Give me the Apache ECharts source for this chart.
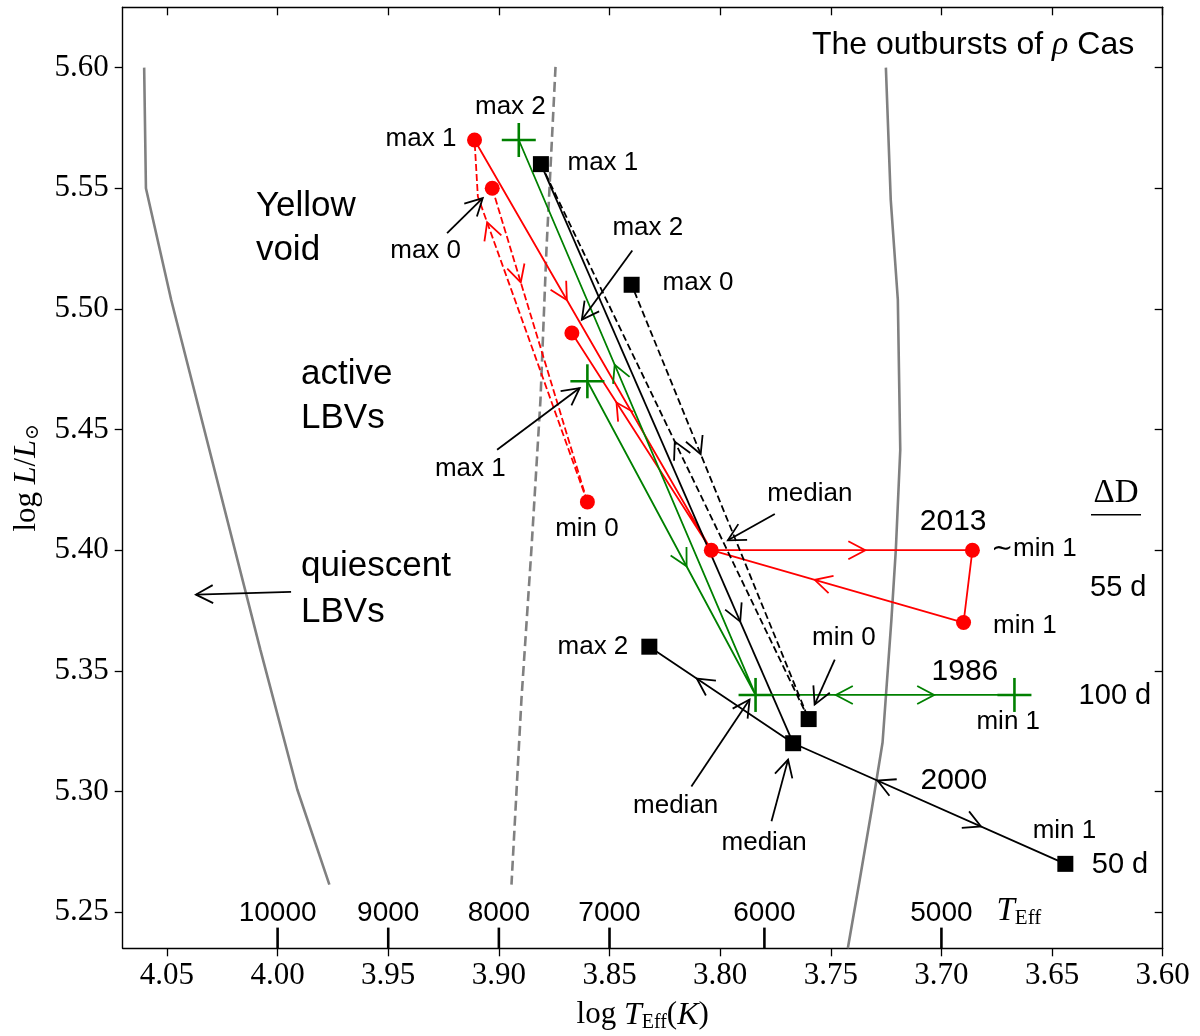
<!DOCTYPE html>
<html><head><meta charset="utf-8">
<script src="https://cdn.jsdelivr.net/npm/echarts@6/dist/echarts.min.js"></script>
<style>html,body{margin:0;padding:0;background:#fff}#c{width:1200px;height:1036px}</style>
</head><body><div id="c"></div>
<script>
// ---------- axes ----------
const X_MIN = 3.60, X_MAX = 4.07, Y_MIN = 5.235, Y_MAX = 5.625;
const xTicks = [3.60, 3.65, 3.70, 3.75, 3.80, 3.85, 3.90, 3.95, 4.00, 4.05];
const yTicks = [5.25, 5.30, 5.35, 5.40, 5.45, 5.50, 5.55, 5.60];
const tempTickPos = [4.00, 3.95, 3.90, 3.85, 3.78, 3.70];
const tempTickLabels = ['10000', '9000', '8000', '7000', '6000', '5000'];

// ---------- boundary curves ----------
const quiescentBoundary = [[4.0603,5.60],[4.0595,5.55],[4.0481,5.5038],[4.0078,5.3588],[3.9911,5.3008],[3.9766,5.2614]];
const yellowVoidBoundary = [[3.8744,5.6003],[3.8785,5.5245],[3.8812,5.4623],[3.8853,5.4002],[3.8898,5.3381],[3.8943,5.2614]];
const coolBoundary = [[3.7251,5.60],[3.7229,5.5452],[3.7197,5.5038],[3.7186,5.4416],[3.7206,5.4002],[3.7226,5.3712],[3.7266,5.3203],[3.7315,5.2925],[3.7369,5.2635],[3.7423,5.235]];

// ---------- 2013 outburst (red) ----------
const red2013Points = [[3.911,5.57],[3.903,5.55],[3.867,5.49],[3.860,5.42],[3.804,5.40],[3.686,5.40],[3.690,5.37]];
const red2013DashA = [[3.903,5.55],[3.860,5.42]];
const red2013DashB = [[3.860,5.42],[3.9095,5.5466],[3.911,5.57]];
const red2013Solid = [[3.911,5.57],[3.804,5.40],[3.867,5.49]];
const red2013Loop = [[3.804,5.40],[3.686,5.40],[3.690,5.37],[3.804,5.40]];
const red2013Arrows = [
  [3.911,5.57, 3.804,5.40, 0.39],
  [3.903,5.55, 3.860,5.42, 0.30],
  [3.860,5.42, 3.9095,5.5466, 0.915],
  [3.804,5.40, 3.867,5.49, 0.68],
  [3.804,5.40, 3.686,5.40, 0.59],
  [3.690,5.37, 3.804,5.40, 0.59]
];

// ---------- 1986 outburst (green) ----------
const green1986Points = [[3.891,5.57],[3.860,5.47],[3.784,5.34],[3.667,5.34]];
const green1986PathA = [[3.891,5.57],[3.784,5.34],[3.860,5.47]];
const green1986PathB = [[3.784,5.34],[3.667,5.34]];
const green1986Arrows = [
  [3.860,5.47, 3.784,5.34, 0.59],
  [3.784,5.34, 3.891,5.57, 0.595],
  [3.784,5.34, 3.667,5.34, 0.69],
  [3.667,5.34, 3.784,5.34, 0.69]
];

// ---------- 2000 outburst (black) ----------
const black2000Points = [[3.881,5.56],[3.840,5.51],[3.832,5.36],[3.760,5.33],[3.767,5.32],[3.644,5.27]];
const black2000SolidA = [[3.881,5.56],[3.767,5.32]];
const black2000SolidB = [[3.832,5.36],[3.767,5.32],[3.644,5.27]];
const black2000Dash = [[3.881,5.56],[3.760,5.33],[3.840,5.51]];
const black2000Arrows = [
  [3.881,5.56, 3.767,5.32, 0.79],
  [3.760,5.33, 3.881,5.56, 0.50],
  [3.840,5.51, 3.760,5.33, 0.39],
  [3.767,5.32, 3.832,5.36, 0.67],
  [3.767,5.32, 3.644,5.27, 0.69],
  [3.644,5.27, 3.767,5.32, 0.69]
];

// ---------- annotations ----------
const smallLabels = [
  ['max 2', 3.8948, 5.5837], ['max 1', 3.9352, 5.5705], ['max 1', 3.8530, 5.5605],
  ['max 0', 3.9331, 5.5241], ['max 2', 3.8327, 5.5335], ['max 0', 3.8100, 5.5107],
  ['max 1', 3.9129, 5.4338], ['min 0', 3.8602, 5.4089], ['median', 3.7595, 5.4234],
  ['\u223Cmin 1', 3.6582, 5.4006], ['min 1', 3.6623, 5.3687], ['min 0', 3.7441, 5.3638],
  ['min 1', 3.6698, 5.3287], ['max 2', 3.8575, 5.3598], ['median', 3.8201, 5.2939],
  ['median', 3.7801, 5.2787], ['min 1', 3.6444, 5.2838]
];
const yearLabels = [['2013', 3.6947, 5.4116], ['1986', 3.6894, 5.3497], ['2000', 3.6944, 5.3045]];
const durationLabels = [['55 d', 3.6201, 5.3845], ['100 d', 3.6216, 5.3397], ['50 d', 3.6193, 5.2697]];
const regionLabels = [
  ['Yellow', 4.0098, 5.5427], ['void', 4.0098, 5.5241],
  ['active', 3.9894, 5.4730], ['LBVs', 3.9894, 5.4548],
  ['quiescent', 3.9894, 5.3931], ['LBVs', 3.9894, 5.3743]
];
const pointerArrows = [
  [3.9234,5.5314, 3.9073,5.5459],
  [3.8397,5.5242, 3.8625,5.4955],
  [3.9008,5.4416, 3.8635,5.4672],
  [3.7753,5.4150, 3.7965,5.4041],
  [3.7482,5.3546, 3.7573,5.3360],
  [3.8130,5.3021, 3.7867,5.3381],
  [3.7768,5.2877, 3.7693,5.3132],
  [3.9939,5.3827, 4.0369,5.3816]
];
const titleLabel = ['{t|The outbursts of }{r|\u03C1}{t| Cas}', 3.6857, 5.6094];
const deltaLabel = ['\u0394D', 3.6211, 5.4234];
const teffLabel = ['{i|T}{s|Eff}', 3.6751, 5.2502];

// ---------- helpers ----------
const SANS = "'Liberation Sans', 'DejaVu Sans', sans-serif";
const SERIF = "'Liberation Serif', 'DejaVu Serif', serif";
const RED = '#ff0000', GREEN = '#008000', BLACK = '#000000', GRAY = '#808080';

function head(tip, ang, color) {
  const L = 17, W = 9;
  const ux = Math.cos(ang), uy = Math.sin(ang), nx = -uy, ny = ux;
  const h1 = [tip[0] - L*ux + W*nx, tip[1] - L*uy + W*ny];
  const h2 = [tip[0] - L*ux - W*nx, tip[1] - L*uy - W*ny];
  return {type: 'polyline', shape: {points: [h1, tip, h2]}, style: {stroke: color, lineWidth: 1.8, fill: 'none'}};
}
function lineSeries(data, color, width, dash, z) {
  return {type: 'line', data: data, showSymbol: false, symbol: 'none', silent: true, z: z || 3,
    lineStyle: {color: color, width: width, type: dash || 'solid', cap: 'butt'}, animation: false};
}
function flowArrows(segs, color) {
  return {type: 'custom', data: segs, encode: {x: [0, 2], y: [1, 3]}, z: 4, silent: true, clip: false,
    renderItem(params, api) {
      const a = api.coord([api.value(0), api.value(1)]);
      const b = api.coord([api.value(2), api.value(3)]);
      const f = api.value(4);
      const tip = [a[0] + f*(b[0]-a[0]), a[1] + f*(b[1]-a[1])];
      return head(tip, Math.atan2(b[1]-a[1], b[0]-a[0]), color);
    }};
}
function textSeries(items, style) {
  return {type: 'custom', data: items.map(d => [d[1], d[2]]), z: 6, silent: true, clip: false,
    renderItem(params, api) {
      const p = api.coord([api.value(0), api.value(1)]);
      return {type: 'text', x: p[0], y: p[1], style: Object.assign({text: items[params.dataIndex][0]}, style)};
    }};
}

const series = [
  lineSeries(quiescentBoundary, GRAY, 2.6),
  lineSeries(yellowVoidBoundary, GRAY, 2.6, [10, 5]),
  lineSeries(coolBoundary, GRAY, 2.6),
  lineSeries(red2013DashA, RED, 1.8, [7, 3]),
  lineSeries(red2013DashB, RED, 1.8, [7, 3]),
  lineSeries(red2013Solid, RED, 1.8),
  lineSeries(red2013Loop, RED, 1.8),
  lineSeries(green1986PathA, GREEN, 1.8),
  lineSeries(green1986PathB, GREEN, 1.8),
  lineSeries(black2000SolidA, BLACK, 1.8),
  lineSeries(black2000SolidB, BLACK, 1.8),
  lineSeries(black2000Dash, BLACK, 1.8, [7, 3.5]),
  flowArrows(red2013Arrows, RED),
  flowArrows(green1986Arrows, GREEN),
  flowArrows(black2000Arrows, BLACK),
  {type: 'scatter', data: red2013Points, symbol: 'circle', symbolSize: 15, z: 5, silent: true,
    itemStyle: {color: RED, opacity: 1}},
  {type: 'scatter', data: black2000Points, symbol: 'rect', symbolSize: 16, z: 5, silent: true,
    itemStyle: {color: BLACK, opacity: 1}},
  {type: 'custom', data: green1986Points, z: 5, silent: true, clip: false,
    renderItem(params, api) {
      const p = api.coord([api.value(0), api.value(1)]);
      const s = 17;
      return {type: 'group', children: [
        {type: 'line', shape: {x1: p[0]-s, y1: p[1], x2: p[0]+s, y2: p[1]}, style: {stroke: GREEN, lineWidth: 2.6}},
        {type: 'line', shape: {x1: p[0], y1: p[1]-s, x2: p[0], y2: p[1]+s}, style: {stroke: GREEN, lineWidth: 2.6}}
      ]};
    }},
  // pointer arrows
  {type: 'custom', data: pointerArrows, encode: {x: [0, 2], y: [1, 3]}, z: 6, silent: true, clip: false,
    renderItem(params, api) {
      const a = api.coord([api.value(0), api.value(1)]);
      const b = api.coord([api.value(2), api.value(3)]);
      return {type: 'group', children: [
        {type: 'line', shape: {x1: a[0], y1: a[1], x2: b[0], y2: b[1]}, style: {stroke: BLACK, lineWidth: 1.8}},
        head(b, Math.atan2(b[1]-a[1], b[0]-a[0]), BLACK)
      ]};
    }},
  // temperature ticks
  {type: 'custom', data: tempTickPos.map(v => [v, Y_MIN]), z: 6, silent: true, clip: false,
    renderItem(params, api) {
      const p = api.coord([api.value(0), api.value(1)]);
      return {type: 'group', children: [
        {type: 'line', shape: {x1: p[0], y1: p[1], x2: p[0], y2: p[1]-20.7}, style: {stroke: BLACK, lineWidth: 2.6}},
        {type: 'text', x: p[0], y: p[1]-35, style: {text: tempTickLabels[params.dataIndex], fill: BLACK,
          fontFamily: SANS, fontSize: 28, align: 'center', verticalAlign: 'middle'}}
      ]};
    }},
  textSeries(smallLabels, {fill: BLACK, fontFamily: SANS, fontSize: 26, align: 'center', verticalAlign: 'middle'}),
  textSeries(yearLabels, {fill: BLACK, fontFamily: SANS, fontSize: 30, align: 'center', verticalAlign: 'middle'}),
  textSeries(durationLabels, {fill: BLACK, fontFamily: SANS, fontSize: 29, align: 'center', verticalAlign: 'middle'}),
  textSeries(regionLabels, {fill: BLACK, fontFamily: SANS, fontSize: 35, align: 'left', verticalAlign: 'middle'}),
  textSeries([titleLabel], {fill: BLACK, align: 'center', verticalAlign: 'middle',
    rich: {t: {fontFamily: SANS, fontSize: 32, fill: BLACK}, r: {fontFamily: SERIF, fontStyle: 'italic', fontSize: 34, fill: BLACK}}}),
  textSeries([teffLabel], {fill: BLACK, align: 'left', verticalAlign: 'middle',
    rich: {i: {fontFamily: SERIF, fontStyle: 'italic', fontSize: 33, fill: BLACK},
           s: {fontFamily: SERIF, fontSize: 21, fill: BLACK, padding: [14, 0, 0, 0]}}}),
  {type: 'custom', data: [[deltaLabel[1], deltaLabel[2]]], z: 6, silent: true, clip: false,
    renderItem(params, api) {
      const p = api.coord([api.value(0), api.value(1)]);
      return {type: 'group', children: [
        {type: 'text', x: p[0], y: p[1], style: {text: deltaLabel[0], fill: BLACK, fontFamily: SERIF, fontSize: 33,
          align: 'center', verticalAlign: 'middle'}},
        {type: 'line', shape: {x1: p[0]-25, y1: p[1]+21, x2: p[0]+25, y2: p[1]+21}, style: {stroke: BLACK, lineWidth: 1.5}}
      ]};
    }}
];

const axisCommon = {
  axisLine: {show: true, onZero: false, lineStyle: {color: BLACK, width: 1.4}},
  splitLine: {show: false}
};
const fmt = v => Number(v).toFixed(2);

const option = {
  animation: false,
  backgroundColor: '#fff',
  grid: {left: 122.7, right: 37.3, top: 7.3, bottom: 87.7, containLabel: false, outerBoundsMode: 'none'},
  xAxis: [
    Object.assign({type: 'value', min: X_MIN, max: X_MAX, inverse: true, position: 'bottom',
      axisTick: {show: true, inside: false, length: 8, customValues: xTicks, lineStyle: {color: BLACK, width: 1.3}},
      axisLabel: {show: true, customValues: xTicks, formatter: fmt, margin: 12, color: BLACK, fontFamily: SERIF, fontSize: 31},
      name: '{n|log }{i|T}{s|Eff}{n|(}{i|K}{n|)}', nameLocation: 'middle', nameGap: 50,
      nameTextStyle: {rich: {
        n: {fontFamily: SERIF, fontSize: 31, color: BLACK},
        i: {fontFamily: SERIF, fontStyle: 'italic', fontSize: 32, color: BLACK},
        s: {fontFamily: SERIF, fontSize: 20, color: BLACK, padding: [14, 0, 0, 0]}}}
    }, axisCommon),
    Object.assign({type: 'value', min: X_MIN, max: X_MAX, inverse: true, position: 'top',
      axisTick: {show: true, inside: true, length: 8, customValues: xTicks, lineStyle: {color: BLACK, width: 1.3}},
      axisLabel: {show: false}}, axisCommon)
  ],
  yAxis: [
    Object.assign({type: 'value', min: Y_MIN, max: Y_MAX, position: 'left',
      axisTick: {show: true, inside: false, length: 8, customValues: yTicks, lineStyle: {color: BLACK, width: 1.3}},
      axisLabel: {show: true, customValues: yTicks, formatter: fmt, margin: 14, color: BLACK, fontFamily: SERIF, fontSize: 31},
      name: '{n|log }{i|L}{n|/}{i|L}{s|\u2299}', nameLocation: 'middle', nameGap: 80, nameRotate: 90,
      nameTextStyle: {rich: {
        n: {fontFamily: SERIF, fontSize: 31, color: BLACK},
        i: {fontFamily: SERIF, fontStyle: 'italic', fontSize: 32, color: BLACK},
        s: {fontFamily: "'DejaVu Serif', serif", fontSize: 19, color: BLACK, padding: [12, 0, 0, 0]}}}
    }, axisCommon),
    Object.assign({type: 'value', min: Y_MIN, max: Y_MAX, position: 'right',
      axisTick: {show: true, inside: true, length: 8, customValues: yTicks, lineStyle: {color: BLACK, width: 1.3}},
      axisLabel: {show: false}}, axisCommon)
  ],
  series: series
};

const chart = echarts.init(document.getElementById('c'), null, {renderer: 'canvas'});
chart.setOption(option);
</script>
</body></html>
